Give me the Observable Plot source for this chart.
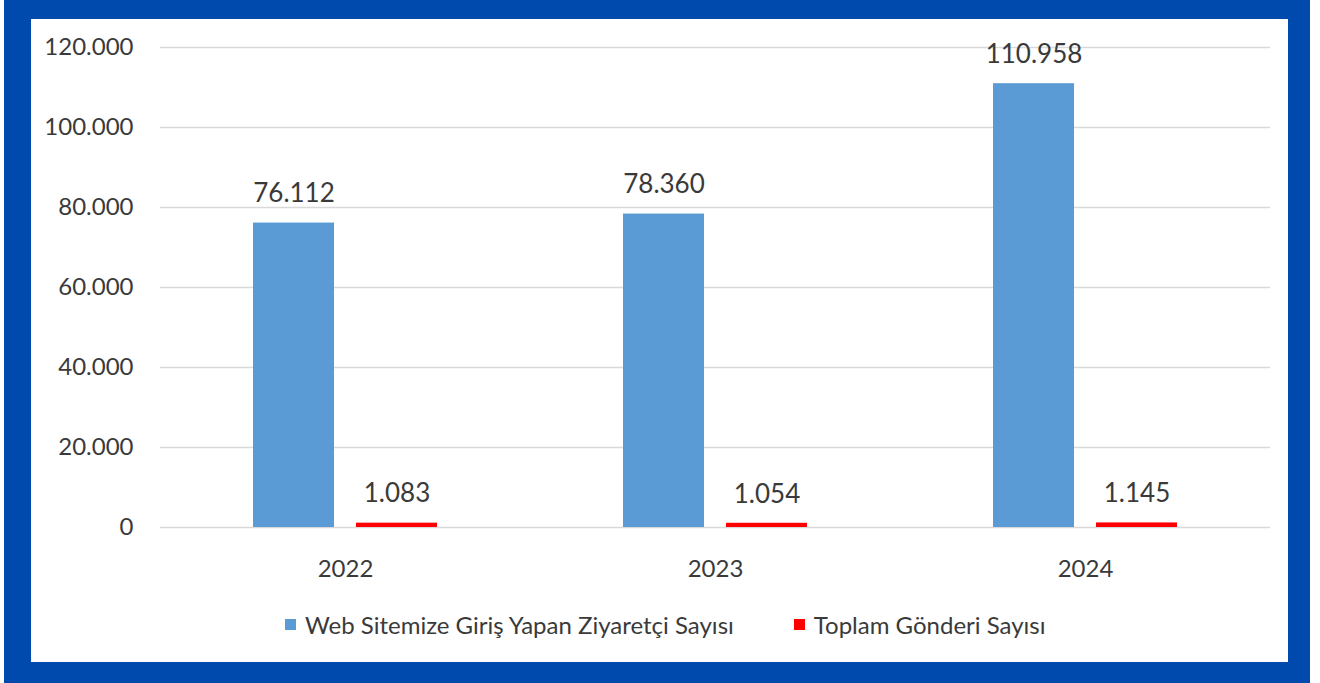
<!DOCTYPE html>
<html>
<head>
<meta charset="utf-8">
<script src="https://cdn.jsdelivr.net/npm/d3@7"></script>
<script src="https://cdn.jsdelivr.net/npm/@observablehq/plot@0.6"></script>
<style>
  html, body { margin: 0; padding: 0; background: #fff; width: 1320px; height: 683px; overflow: hidden; }
  #frame { position: absolute; left: 4px; top: 0; width: 1306px; height: 683px; background: #004aad; }
  #inner { position: absolute; left: 31px; top: 19px; width: 1257px; height: 643px; background: #fff; }
  #chart { position: absolute; left: 0; top: 0; }
  #legend { position: absolute; left: 254px; top: 591px; display: flex; align-items: center; gap: 60px;
            font-family: Lato, sans-serif; font-size: 24px; color: #3a3a3a; }
  .item { display: flex; align-items: center; gap: 9px; }
  .sw { width: 11px; height: 11px; display: inline-block; }
</style>
</head>
<body>
<div id="frame"></div>
<div id="inner">
  <div id="chart"></div>
  <div id="legend"></div>
</div>
<script>
const years = ["2022", "2023", "2024"];
const seriesNames = ["Web Sitemize Giriş Yapan Ziyaretçi Sayısı", "Toplam Gönderi Sayısı"];
const visitors = [76112, 78360, 110958];
const posts = [1083, 1054, 1145];
const yTicks = [0, 20000, 40000, 60000, 80000, 100000, 120000];
const colors = ["#5b9bd5", "#ff0000"];

const data = [];
years.forEach((y, i) => {
  data.push({year: y, series: seriesNames[0], value: visitors[i]});
  data.push({year: y, series: seriesNames[1], value: posts[i]});
});

const trFmt = d3.formatLocale({decimal: ",", thousands: ".", grouping: [3], currency: ["", ""]}).format(",");

const chart = Plot.plot({
  width: 1257,
  height: 565,
  marginLeft: 129,
  marginRight: 18,
  marginTop: 28,
  marginBottom: 57,
  style: {fontFamily: "Lato, sans-serif", fontSize: "24px", color: "#3a3a3a", background: "transparent"},
  fx: {domain: years, padding: 0, label: null, tickSize: 0, tickPadding: 32},
  x: {domain: seriesNames, paddingInner: 0.2115, paddingOuter: 0.8846, axis: null},
  y: {domain: [0, 120000], ticks: yTicks, tickFormat: trFmt, tickSize: 0, tickPadding: 27, label: null},
  color: {domain: seriesNames, range: colors},
  marks: [
    Plot.ruleY(yTicks, {stroke: "#d9d9d9", strokeWidth: 1.5}),
    Plot.barY(data, {fx: "year", x: "series", y: "value", fill: "series"}),
    Plot.text(data, {fx: "year", x: "series", y: "value", text: d => trFmt(d.value), dy: -29, lineAnchor: "middle", fill: "#3a3a3a", fontSize: 26})
  ]
});
document.getElementById("chart").appendChild(chart);

const legend = document.getElementById("legend");
seriesNames.forEach((s, i) => {
  const it = document.createElement("div");
  it.className = "item";
  const sw = document.createElement("span");
  sw.className = "sw";
  sw.style.background = colors[i];
  const t = document.createElement("span");
  t.textContent = s;
  it.appendChild(sw); it.appendChild(t);
  legend.appendChild(it);
});
</script>
</body>
</html>
